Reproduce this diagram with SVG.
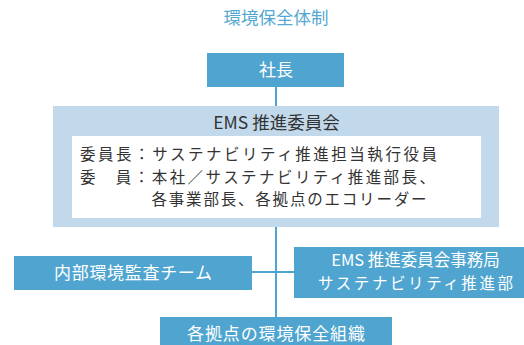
<svg xmlns="http://www.w3.org/2000/svg" width="524" height="345" viewBox="0 0 524 345">
<style>
text{font-family:"Noto Sans CJK JP","Noto Sans",sans-serif;font-size:17px;}
.w{fill:#ffffff;text-anchor:middle;}
.d{fill:#333333;}
.c{text-anchor:middle;}
.m{font-size:15.5px;}
.box{fill:#4fa5cf;}
.ln{stroke:#4fa5cf;stroke-width:2;fill:none;}
</style>
<rect width="524" height="345" fill="#ffffff"/>
<text id="title" x="276" y="24" class="c" fill="#55a8d1" style="font-size:17.5px">環境保全体制</text>
<g id="connectors">
<line class="ln" x1="276" y1="86" x2="276" y2="107"/>
<line class="ln" x1="276" y1="226" x2="276" y2="318"/>
<line class="ln" x1="252" y1="272" x2="295" y2="272"/>
</g>
<g id="president">
<rect class="box" x="207" y="53" width="137" height="34"/>
<text class="w" x="276" y="76">社長</text>
</g>
<g id="ems-committee">
<rect x="53" y="106" width="446" height="121" fill="#c2d9ec"/>
<text class="d c" x="276.5" y="128.5" style="font-size:17.5px">EMS 推進委員会</text>
<rect x="72" y="136" width="409" height="82" fill="#ffffff"/>
<text class="d m" x="80" y="160" textLength="357" lengthAdjust="spacing">委員長：サステナビリティ推進担当執行役員</text>
<text class="d m" x="80" y="182.5" textLength="355" lengthAdjust="spacing">委　員：本社／サステナビリティ推進部長、</text>
<text class="d m" x="151.5" y="205" textLength="275" lengthAdjust="spacing">各事業部長、各拠点のエコリーダー</text>
</g>
<g id="audit-team">
<rect class="box" x="14" y="256" width="238" height="34"/>
<text class="w" x="133" y="279" textLength="158" lengthAdjust="spacing">内部環境監査チーム</text>
</g>
<g id="secretariat">
<rect class="box" x="294" y="247" width="230" height="51"/>
<text class="w" x="415.5" y="266" style="font-size:16.5px">EMS 推進委員会事務局</text>
<text class="w m" x="415.5" y="289" textLength="195" lengthAdjust="spacing">サステナビリティ推進部</text>
</g>
<g id="sites">
<rect class="box" x="160" y="317" width="232" height="34"/>
<text class="w" x="276" y="339.5" textLength="178" lengthAdjust="spacing">各拠点の環境保全組織</text>
</g>
</svg>
